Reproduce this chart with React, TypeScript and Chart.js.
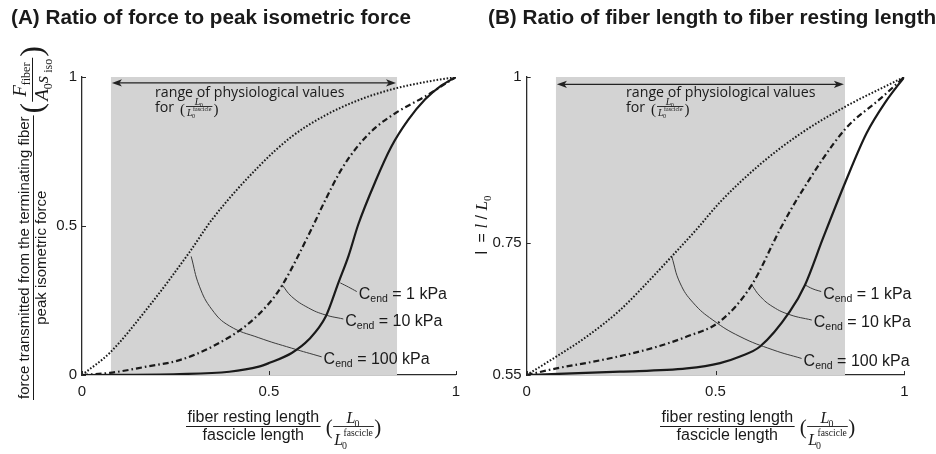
import React, { useEffect, useRef } from 'react';
import { Chart, registerables } from 'chart.js';
Chart.register(...registerables);

// ---------------- shared ----------------
const X_TICKS = [0, 0.5, 1];
const X_TICK_LABELS = ['0', '0.5', '1'];
const SHADE_X = [0.077, 0.843];
const ARROW_X = [0.08, 0.84];
const C_END_LABELS = ['1 kPa', '10 kPa', '100 kPa'];

// ---------------- panel A ----------------
const A_Y_TICKS = [0, 0.5, 1];
const A_Y_TICK_LABELS = ['0', '0.5', '1'];
const A_ARROW_Y = 0.98;

const A_DOT_X = [0, 0.074, 0.172, 0.287, 0.348, 0.473, 0.561, 0.652, 0.739, 0.827, 0.918, 1];
const A_DOT_Y = [0, 0.074, 0.219, 0.411, 0.522, 0.7, 0.8, 0.872, 0.922, 0.958, 0.983, 1];

const A_DD_X = [0, 0.074, 0.172, 0.261, 0.348, 0.438, 0.5, 0.535, 0.614, 0.652, 0.694, 0.739, 0.785, 0.84, 0.918, 1];
const A_DD_Y = [0, 0.007, 0.028, 0.05, 0.095, 0.165, 0.24, 0.3, 0.49, 0.59, 0.69, 0.77, 0.83, 0.88, 0.935, 1];

const A_SOL_X = [0, 0.261, 0.394, 0.473, 0.5, 0.561, 0.606, 0.652, 0.686, 0.713, 0.739, 0.785, 0.827, 0.872, 0.918, 0.96, 1];
const A_SOL_Y = [0, 0.003, 0.011, 0.028, 0.04, 0.074, 0.118, 0.196, 0.31, 0.4, 0.505, 0.65, 0.765, 0.855, 0.925, 0.97, 1];

const A_LEAD1_X = [0.691, 0.713, 0.735];
const A_LEAD1_Y = [0.309, 0.295, 0.28];
const A_LEAD10_X = [0.535, 0.561, 0.606, 0.65, 0.699];
const A_LEAD10_Y = [0.303, 0.263, 0.225, 0.202, 0.188];
const A_LEAD100_X = [0.292, 0.314, 0.348, 0.394, 0.473, 0.561, 0.641];
const A_LEAD100_Y = [0.398, 0.298, 0.219, 0.165, 0.125, 0.09, 0.061];

// ---------------- panel B ----------------
const B_Y_TICKS = [0.55, 0.75, 1];
const B_Y_TICK_LABELS = ['0.55', '0.75', '1'];
const B_ARROW_Y = 0.989;

const B_DOT_X = [0, 0.079, 0.159, 0.247, 0.335, 0.384, 0.45, 0.512, 0.618, 0.724, 0.843, 0.936, 1];
const B_DOT_Y = [0.55, 0.578, 0.608, 0.648, 0.699, 0.729, 0.77, 0.811, 0.868, 0.914, 0.955, 0.982, 1];

const B_DD_X = [0, 0.079, 0.202, 0.335, 0.424, 0.512, 0.596, 0.671, 0.724, 0.843, 0.936, 1];
const B_DD_Y = [0.55, 0.56, 0.573, 0.591, 0.608, 0.631, 0.686, 0.77, 0.823, 0.921, 0.967, 1];

const B_SOL_X = [0, 0.247, 0.424, 0.512, 0.565, 0.618, 0.697, 0.737, 0.785, 0.843, 0.9, 0.95, 1];
const B_SOL_Y = [0.55, 0.555, 0.56, 0.568, 0.578, 0.593, 0.646, 0.686, 0.757, 0.84, 0.915, 0.962, 1];

const B_LEAD1_X = [0.737, 0.758, 0.78];
const B_LEAD1_Y = [0.686, 0.68, 0.676];
const B_LEAD10_X = [0.596, 0.618, 0.652, 0.697, 0.755];
const B_LEAD10_Y = [0.686, 0.669, 0.653, 0.641, 0.633];
const B_LEAD100_X = [0.384, 0.406, 0.441, 0.493, 0.565, 0.652, 0.728];
const B_LEAD100_Y = [0.729, 0.689, 0.659, 0.633, 0.608, 0.588, 0.575];

// ---------------- styles ----------------
const SANS = '"Liberation Sans", Arial, sans-serif';
const SERIF = '"Liberation Serif", "Times New Roman", serif';
const HUMAN = '"Open Sans", "Noto Sans", sans-serif';
const INK = '#1a1a1a';
const AXIS = '#2b2b2b';
const SHADE = '#d3d3d3';
const LEADER = '#3c3c3c';

type Run = { t: string; f: string; dx?: number; dy?: number };

function measureRuns(ctx: CanvasRenderingContext2D, runs: Run[]) {
  let w = 0;
  for (const r of runs) { ctx.font = r.f; w += ctx.measureText(r.t).width + (r.dx || 0); }
  return w;
}
function drawRuns(ctx: CanvasRenderingContext2D, x: number, y: number, runs: Run[], align: 'left' | 'center' | 'right' = 'left') {
  const w = measureRuns(ctx, runs);
  let cx = align === 'center' ? x - w / 2 : align === 'right' ? x - w : x;
  ctx.textAlign = 'left';
  ctx.textBaseline = 'alphabetic';
  for (const r of runs) {
    ctx.font = r.f;
    cx += r.dx || 0;
    ctx.fillText(r.t, cx, y + (r.dy || 0));
    cx += ctx.measureText(r.t).width;
  }
  return w;
}

function lsubWidth(ctx: CanvasRenderingContext2D, s: number, fasc: boolean) {
  ctx.font = `italic ${s}px ${SERIF}`;
  const wL = ctx.measureText('L').width;
  ctx.font = `${s * 0.62}px ${SERIF}`;
  const w0 = ctx.measureText('0').width;
  let wF = 0;
  if (fasc) { ctx.font = `${s * 0.6}px ${SERIF}`; wF = ctx.measureText('fascicle').width + 0.5; }
  return wL + Math.max(w0, wF);
}
function drawLsub(ctx: CanvasRenderingContext2D, x: number, base: number, s: number, fasc: boolean, fascDy: number) {
  ctx.textAlign = 'left';
  ctx.textBaseline = 'alphabetic';
  ctx.font = `italic ${s}px ${SERIF}`;
  const wL = ctx.measureText('L').width;
  ctx.fillText('L', x, base);
  ctx.font = `${s * 0.62}px ${SERIF}`;
  ctx.fillText('0', x + wL - s * 0.06, base + s * 0.24);
  if (fasc) {
    ctx.font = `${s * 0.6}px ${SERIF}`;
    ctx.fillText('fascicle', x + wL + 0.5, base - fascDy);
  }
}
function drawLRatio(ctx: CanvasRenderingContext2D, xLeft: number, barY: number, s: number, numDy: number, denDy: number, fascDy: number) {
  const wNum = lsubWidth(ctx, s, false);
  const wDen = lsubWidth(ctx, s, true);
  const w = Math.max(wNum, wDen) + 2;
  drawLsub(ctx, xLeft + (w - wNum) / 2, barY - numDy, s, false, 0);
  drawLsub(ctx, xLeft + (w - wDen) / 2, barY + denDy, s, true, fascDy);
  ctx.fillRect(xLeft, barY - 0.5, w, 0.9);
  return w;
}

function drawXTitle(ctx: CanvasRenderingContext2D, x0: number, barY: number) {
  ctx.fillStyle = INK;
  ctx.font = `16px ${SANS}`;
  const num = 'fiber resting length';
  const den = 'fascicle length';
  const w = Math.max(ctx.measureText(num).width, ctx.measureText(den).width) + 3;
  ctx.textAlign = 'center';
  ctx.textBaseline = 'alphabetic';
  ctx.fillText(num, x0 + w / 2, barY - 5);
  ctx.fillText(den, x0 + w / 2, barY + 13);
  ctx.fillRect(x0, barY - 0.5, w, 1);
  ctx.textAlign = 'left';
  let x = x0 + w + 5;
  ctx.font = `21px ${SERIF}`;
  ctx.fillText('(', x, barY + 7.5);
  x += ctx.measureText('(').width + 0.5;
  const wr = drawLRatio(ctx, x, barY, 16, 3.5, 18.5, 9.5);
  x += wr + 0.5;
  ctx.font = `21px ${SERIF}`;
  ctx.fillText(')', x, barY + 7.5);
}

function drawRangeText(ctx: CanvasRenderingContext2D, x: number, base: number) {
  ctx.fillStyle = INK;
  ctx.textAlign = 'left';
  ctx.textBaseline = 'alphabetic';
  ctx.font = `14.2px ${HUMAN}`;
  ctx.fillText('range of physiological values', x, base);
  ctx.fillText('for', x, base + 15);
  let xx = x + 25;
  ctx.font = `15px ${SERIF}`;
  ctx.fillText('(', xx, base + 17);
  xx += ctx.measureText('(').width + 1;
  const w = drawLRatio(ctx, xx, base + 9.5, 10, 1.5, 9, 4.5);
  xx += w + 1;
  ctx.font = `15px ${SERIF}`;
  ctx.fillText(')', xx, base + 17);
}

function drawYTitleA(ctx: CanvasRenderingContext2D) {
  ctx.save();
  ctx.rotate(-Math.PI / 2); // local (u,v) -> canvas (v, -u)
  ctx.fillStyle = INK;
  ctx.font = `15px ${SANS}`;
  const l1 = 'force transmitted from the terminating fiber';
  const l2 = 'peak isometric force';
  const w = ctx.measureText(l1).width + 2;
  const u0 = -400;
  ctx.textAlign = 'center';
  ctx.textBaseline = 'alphabetic';
  ctx.fillText(l1, u0 + w / 2, 29);
  ctx.fillText(l2, u0 + w / 2, 46);
  ctx.fillRect(u0, 33, w, 1);
  ctx.textAlign = 'left';
  let u = u0 + w + 2;
  ctx.font = `32px ${SERIF}`;
  ctx.fillText('(', u, 42);
  u += ctx.measureText('(').width + 1;
  const num: Run[] = [
    { t: 'F', f: `italic 19px ${SERIF}` },
    { t: 'fiber', f: `12px ${SERIF}`, dy: 4 },
  ];
  const den: Run[] = [
    { t: 'A', f: `italic 19px ${SERIF}` },
    { t: '0', f: `12px ${SERIF}`, dy: 4 },
    { t: 's', f: `italic 19px ${SERIF}` },
    { t: ' iso', f: `12px ${SERIF}`, dy: 4 },
  ];
  const fw = Math.max(measureRuns(ctx, num), measureRuns(ctx, den)) + 2;
  drawRuns(ctx, u + fw / 2, 26, num, 'center');
  drawRuns(ctx, u + fw / 2, 48, den, 'center');
  ctx.fillRect(u, 32, fw, 1);
  u += fw + 1;
  ctx.font = `32px ${SERIF}`;
  ctx.fillText(')', u, 42);
  ctx.restore();
}

function drawYTitleB(ctx: CanvasRenderingContext2D) {
  ctx.save();
  ctx.rotate(-Math.PI / 2);
  ctx.fillStyle = INK;
  const runs: Run[] = [
    { t: 'l', f: `16px ${SANS}` },
    { t: ' = ', f: `16px ${SANS}`, dx: 4 },
    { t: 'l', f: `italic 17px ${SERIF}` },
    { t: ' / ', f: `16px ${SANS}` },
    { t: 'L', f: `italic 17px ${SERIF}` },
    { t: '0', f: `11px ${SERIF}`, dy: 4 },
  ];
  drawRuns(ctx, -225, 19, runs, 'center');
  ctx.restore();
}

type Panel = {
  id: string;
  dotX: number[]; dotY: number[];
  ddX: number[]; ddY: number[];
  solX: number[]; solY: number[];
  leads: [number[], number[]][];
  yMin: number; yMax: number;
  yTicks: number[]; yTickLabels: string[];
  arrowY: number;
  padRight: number; yWidth: number;
  title: string; titleX: number;
  rangeX: number; xTitleX: number;
  drawYTitle: (ctx: CanvasRenderingContext2D) => void;
};

function pts(xs: number[], ys: number[]) {
  return xs.map((x, i) => ({ x, y: ys[i] }));
}

function buildConfig(p: Panel): any {
  const overlay = {
    id: 'overlay_' + p.id,
    afterDatasetsDraw(chart: any) {
      const ctx: CanvasRenderingContext2D = chart.ctx;
      const xs = chart.scales.x;
      const ys = chart.scales.y;
      const ca = chart.chartArea;
      ctx.save();
      ctx.strokeStyle = AXIS;
      ctx.lineWidth = 1;
      for (const v of X_TICKS) {
        const px = Math.round(xs.getPixelForValue(v)) + 0.5;
        ctx.beginPath(); ctx.moveTo(px, ca.bottom); ctx.lineTo(px, ca.bottom - 4); ctx.stroke();
      }
      for (const v of p.yTicks) {
        const py = Math.round(ys.getPixelForValue(v)) + 0.5;
        ctx.beginPath(); ctx.moveTo(ca.left, py); ctx.lineTo(ca.left + 4, py); ctx.stroke();
      }
      const ax0 = xs.getPixelForValue(ARROW_X[0]);
      const ax1 = xs.getPixelForValue(ARROW_X[1]);
      const ay = ys.getPixelForValue(p.arrowY);
      ctx.strokeStyle = '#222';
      ctx.fillStyle = '#222';
      ctx.lineWidth = 1.2;
      ctx.beginPath(); ctx.moveTo(ax0 + 6, ay); ctx.lineTo(ax1 - 6, ay); ctx.stroke();
      ctx.beginPath(); ctx.moveTo(ax0, ay); ctx.lineTo(ax0 + 10, ay - 3.6); ctx.lineTo(ax0 + 7.5, ay); ctx.lineTo(ax0 + 10, ay + 3.6); ctx.closePath(); ctx.fill();
      ctx.beginPath(); ctx.moveTo(ax1, ay); ctx.lineTo(ax1 - 10, ay - 3.6); ctx.lineTo(ax1 - 7.5, ay); ctx.lineTo(ax1 - 10, ay + 3.6); ctx.closePath(); ctx.fill();
      drawRangeText(ctx, p.rangeX, 97);
      ctx.fillStyle = INK;
      p.leads.forEach(([lx, ly], i) => {
        const ex = xs.getPixelForValue(lx[lx.length - 1]);
        const ey = ys.getPixelForValue(ly[ly.length - 1]);
        drawRuns(ctx, ex + 2, ey + 7.2, [
          { t: 'C', f: `16px ${SANS}` },
          { t: 'end', f: `10.5px ${SANS}`, dy: 3 },
          { t: ' = ' + C_END_LABELS[i], f: `16px ${SANS}` },
        ]);
      });
      ctx.restore();
    },
    afterDraw(chart: any) {
      const ctx: CanvasRenderingContext2D = chart.ctx;
      ctx.save();
      ctx.fillStyle = INK;
      ctx.textAlign = 'left';
      ctx.textBaseline = 'alphabetic';
      ctx.font = `bold 20.7px ${SANS}`;
      ctx.fillText(p.title, p.titleX, 23.5);
      drawXTitle(ctx, p.xTitleX, 426.5);
      p.drawYTitle(ctx);
      ctx.restore();
    },
  };

  const lineBase = { pointRadius: 0, fill: false, cubicInterpolationMode: 'monotone' };
  const datasets: any[] = [
    { ...lineBase, data: pts(p.solX, p.solY), borderColor: INK, borderWidth: 2.2, order: 1 },
    { ...lineBase, data: pts(p.ddX, p.ddY), borderColor: INK, borderWidth: 2.2, borderDash: [6, 3, 1.6, 3], order: 2 },
    { ...lineBase, data: pts(p.dotX, p.dotY), borderColor: INK, borderWidth: 2, borderDash: [1.6, 1.8], order: 3 },
    ...p.leads.map(([lx, ly]) => ({ pointRadius: 0, fill: false, tension: 0.45, data: pts(lx, ly), borderColor: LEADER, borderWidth: 1, order: 4 })),
    {
      data: [{ x: SHADE_X[0], y: p.yMax }, { x: SHADE_X[1], y: p.yMax }],
      borderWidth: 0, borderColor: 'rgba(0,0,0,0)', backgroundColor: SHADE,
      fill: 'start', pointRadius: 0, order: 10,
    },
  ];

  const tickFont = { family: SANS, size: 15 };
  return {
    type: 'line',
    data: { datasets },
    options: {
      animation: false,
      responsive: false,
      devicePixelRatio: 1,
      layout: { padding: { top: 77, right: p.padRight, left: 0, bottom: 0 } },
      plugins: { legend: { display: false }, tooltip: { enabled: false }, title: { display: false } },
      scales: {
        x: {
          type: 'linear', min: 0, max: 1,
          afterBuildTicks: (s: any) => { s.ticks = X_TICKS.map((v) => ({ value: v })); },
          afterFit: (s: any) => { s.height = 79; },
          ticks: { callback: (_v: any, i: number) => X_TICK_LABELS[i], font: tickFont, color: INK, padding: 8, maxRotation: 0, autoSkip: false },
          grid: { display: false, drawTicks: false },
          border: { display: true, color: AXIS, width: 1.3 },
        },
        y: {
          type: 'linear', min: p.yMin, max: p.yMax,
          afterBuildTicks: (s: any) => { s.ticks = p.yTicks.map((v) => ({ value: v })); },
          afterFit: (s: any) => { s.width = p.yWidth; },
          ticks: { callback: (_v: any, i: number) => p.yTickLabels[i], font: tickFont, color: INK, padding: 5, autoSkip: false },
          grid: { display: false, drawTicks: false },
          border: { display: true, color: AXIS, width: 1.3 },
        },
      },
    },
    plugins: [overlay],
  };
}

const PANEL_A: Panel = {
  id: 'A',
  dotX: A_DOT_X, dotY: A_DOT_Y, ddX: A_DD_X, ddY: A_DD_Y, solX: A_SOL_X, solY: A_SOL_Y,
  leads: [[A_LEAD1_X, A_LEAD1_Y], [A_LEAD10_X, A_LEAD10_Y], [A_LEAD100_X, A_LEAD100_Y]],
  yMin: 0, yMax: 1, yTicks: A_Y_TICKS, yTickLabels: A_Y_TICK_LABELS, arrowY: A_ARROW_Y,
  padRight: 10, yWidth: 82,
  title: '(A) Ratio of force to peak isometric force', titleX: 11,
  rangeX: 155, xTitleX: 186,
  drawYTitle: drawYTitleA,
};

const PANEL_B: Panel = {
  id: 'B',
  dotX: B_DOT_X, dotY: B_DOT_Y, ddX: B_DD_X, ddY: B_DD_Y, solX: B_SOL_X, solY: B_SOL_Y,
  leads: [[B_LEAD1_X, B_LEAD1_Y], [B_LEAD10_X, B_LEAD10_Y], [B_LEAD100_X, B_LEAD100_Y]],
  yMin: 0.55, yMax: 1, yTicks: B_Y_TICKS, yTickLabels: B_Y_TICK_LABELS, arrowY: B_ARROW_Y,
  padRight: 31.7, yWidth: 58.7,
  title: '(B) Ratio of fiber length to fiber resting length', titleX: 20,
  rangeX: 158, xTitleX: 192,
  drawYTitle: drawYTitleB,
};

export default function App() {
  const refA = useRef<HTMLCanvasElement>(null);
  const refB = useRef<HTMLCanvasElement>(null);
  useEffect(() => {
    document.body.style.margin = '0';
    const a = new Chart(refA.current as HTMLCanvasElement, buildConfig(PANEL_A));
    const b = new Chart(refB.current as HTMLCanvasElement, buildConfig(PANEL_B));
    return () => { a.destroy(); b.destroy(); };
  }, []);
  return (
    <div style={{ display: 'flex', width: 936, height: 454, background: '#fff' }}>
      <canvas ref={refA} width={468} height={454} style={{ width: 468, height: 454, display: 'block' }} />
      <canvas ref={refB} width={468} height={454} style={{ width: 468, height: 454, display: 'block' }} />
    </div>
  );
}
